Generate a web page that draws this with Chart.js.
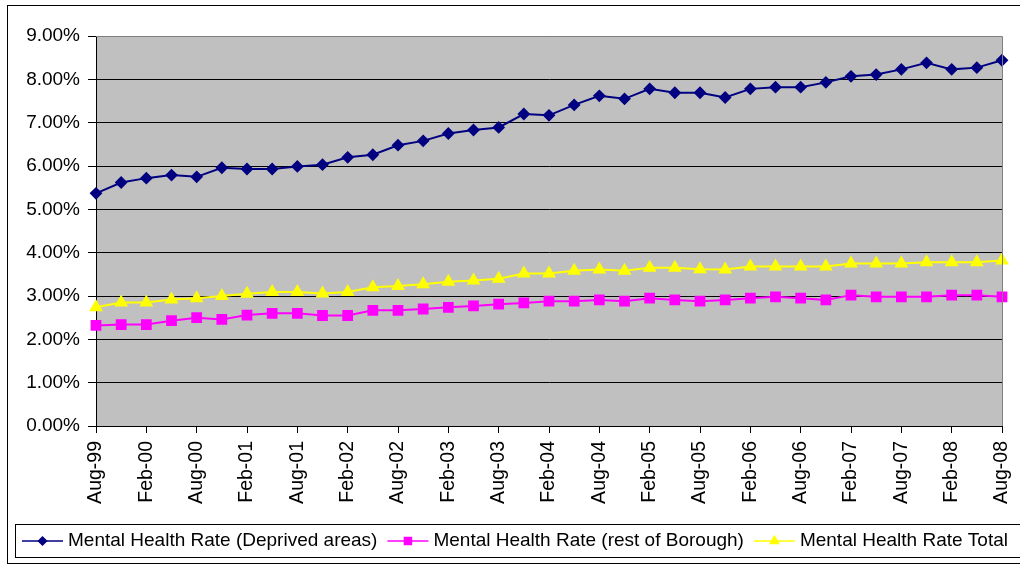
<!DOCTYPE html>
<html>
<head>
<meta charset="utf-8">
<script src="https://cdn.jsdelivr.net/npm/chart.js@4.4.0/dist/chart.umd.min.js"></script>
<style>
  body { margin: 0; background: #fff; }
  #wrap { width: 1020px; height: 565px; }
</style>
</head>
<body>
<div id="wrap"><canvas id="myLineChart" width="1020" height="565"></canvas></div>
<script>
// quarterly figures, Aug-99 .. Aug-08 (percent)
const categories = [
    'Aug-99', 'Nov-99', 'Feb-00', 'May-00', 'Aug-00', 'Nov-00', 'Feb-01', 'May-01',
    'Aug-01', 'Nov-01', 'Feb-02', 'May-02', 'Aug-02', 'Nov-02', 'Feb-03', 'May-03',
    'Aug-03', 'Nov-03', 'Feb-04', 'May-04', 'Aug-04', 'Nov-04', 'Feb-05', 'May-05',
    'Aug-05', 'Nov-05', 'Feb-06', 'May-06', 'Aug-06', 'Nov-06', 'Feb-07', 'May-07',
    'Aug-07', 'Nov-07', 'Feb-08', 'May-08', 'Aug-08'
];
const deprivedRate = [
    5.37, 5.62, 5.72, 5.79, 5.75, 5.96, 5.93, 5.93, 5.99, 6.03, 6.20, 6.26, 6.48,
    6.58, 6.75, 6.83, 6.89, 7.20, 7.17, 7.41, 7.62, 7.55, 7.78, 7.69, 7.69,
    7.58, 7.78, 7.82, 7.82, 7.93, 8.07, 8.11, 8.23, 8.38, 8.23, 8.27, 8.44
];
const restRate = [
    2.32, 2.34, 2.34, 2.43, 2.50, 2.46, 2.56, 2.60, 2.60, 2.55, 2.55, 2.67, 2.67,
    2.70, 2.74, 2.77, 2.81, 2.84, 2.88, 2.88, 2.91, 2.88, 2.95, 2.91, 2.88,
    2.91, 2.95, 2.98, 2.95, 2.91, 3.02, 2.98, 2.98, 2.98, 3.02, 3.02, 2.98
];
const totalRate = [
    2.74, 2.85, 2.85, 2.92, 2.95, 3.00, 3.05, 3.09, 3.09, 3.06, 3.09, 3.20, 3.23,
    3.27, 3.33, 3.36, 3.40, 3.52, 3.52, 3.58, 3.61, 3.58, 3.65, 3.65, 3.62,
    3.61, 3.68, 3.68, 3.68, 3.68, 3.75, 3.75, 3.75, 3.78, 3.78, 3.78, 3.82
];
const seriesNames = [
    'Mental Health Rate (Deprived areas)',
    'Mental Health Rate (rest of Borough)',
    'Mental Health Rate Total'
];

const FONT = '"Liberation Sans", Arial, sans-serif';

// grey plot area + outer frame + excel style legend box
const excelLook = {
    id: 'excelLook',
    beforeDraw(chart) {
        const c = chart.ctx, a = chart.chartArea;
        c.save();
        c.fillStyle = '#c0c0c0';
        c.fillRect(a.left, a.top, a.right - a.left, a.bottom - a.top);
        c.restore();
    },
    afterDraw(chart) {
        const c = chart.ctx, a = chart.chartArea;
        c.save();
        c.strokeStyle = '#808080';
        c.lineWidth = 1;
        c.beginPath();
        c.moveTo(a.left, a.top + 0.5);
        c.lineTo(a.right + 0.5, a.top + 0.5);
        c.lineTo(a.right + 0.5, a.bottom);
        c.stroke();

        // outer frame
        c.strokeStyle = '#000';
        c.strokeRect(7.5, 5.5, 1030, 558);

        // legend
        c.strokeRect(15.5, 524.5, 1030, 33);
        c.font = '19px ' + FONT;
        c.textBaseline = 'middle';
        c.fillStyle = '#000';
        const y = 541;
        let x = 22;
        chart.data.datasets.forEach(ds => {
            c.strokeStyle = ds.borderColor;
            c.lineWidth = 1.5;
            c.beginPath();
            c.moveTo(x, y);
            c.lineTo(x + 41, y);
            c.stroke();
            Chart.helpers.drawPoint(c, {
                pointStyle: ds.pointStyle,
                radius: ds.pointRadius * 0.8,
                borderWidth: 1
            }, x + 20.5, y);
            c.fillStyle = ds.pointBackgroundColor;
            c.strokeStyle = ds.pointBorderColor;
            c.fill();
            c.fillStyle = '#000';
            c.fillText(ds.label, x + 46, y);
            x += 46 + c.measureText(ds.label).width + 10;
        });
        c.restore();
    }
};

var ctx = document.getElementById('myLineChart').getContext('2d');
var myLineChart = new Chart(ctx, {
    type: 'line',
    data: {
        labels: categories,
        datasets: [{
            label: seriesNames[0],
            data: deprivedRate,
            borderColor: '#000080',
            backgroundColor: '#000080',
            pointBackgroundColor: '#000080',
            pointBorderColor: '#000080',
            pointStyle: 'rectRot',
            pointRadius: 5,
            borderWidth: 2
        }, {
            label: seriesNames[1],
            data: restRate,
            borderColor: '#ff00ff',
            backgroundColor: '#ff00ff',
            pointBackgroundColor: '#ff00ff',
            pointBorderColor: '#ff00ff',
            pointStyle: 'rect',
            pointRadius: 6.2,
            borderWidth: 2
        }, {
            label: seriesNames[2],
            data: totalRate,
            borderColor: '#ffff00',
            backgroundColor: '#ffff00',
            pointBackgroundColor: '#ffff00',
            pointBorderColor: '#ffff00',
            pointStyle: 'triangle',
            pointRadius: 6,
            borderWidth: 2
        }]
    },
    options: {
        responsive: false,
        animation: false,
        events: [],
        layout: { padding: { left: 0, top: 36, right: 18, bottom: 39 } },
        elements: { line: { tension: 0 }, point: { borderWidth: 1 } },
        plugins: {
            legend: { display: false },
            tooltip: { enabled: false }
        },
        scales: {
            x: {
                offset: false,
                afterFit(scale) {
                    scale.height = 100;
                    scale.paddingLeft = 0;
                    scale.paddingRight = 0;
                },
                border: { color: '#000', width: 1 },
                grid: {
                    drawOnChartArea: false,
                    drawTicks: true,
                    tickLength: 7,
                    tickColor: c => (c.index % 2 === 0 ? '#000' : 'rgba(0,0,0,0)')
                },
                ticks: {
                    autoSkip: false,
                    minRotation: 90,
                    maxRotation: 90,
                    padding: 8,
                    color: '#000',
                    font: { family: FONT, size: 19.5 },
                    callback: (v, i) => (i % 2 === 0 ? categories[i] : '')
                }
            },
            y: {
                min: 0,
                max: 9,
                afterFit(scale) { scale.width = 96; },
                border: { color: '#000', width: 1 },
                grid: {
                    color: '#000',
                    lineWidth: 1,
                    tickLength: 8,
                    tickColor: '#000'
                },
                ticks: {
                    stepSize: 1,
                    padding: 8,
                    color: '#000',
                    font: { family: FONT, size: 19 },
                    callback: v => v.toFixed(2) + '%'
                }
            }
        }
    },
    plugins: [excelLook]
});
</script>
</body>
</html>
